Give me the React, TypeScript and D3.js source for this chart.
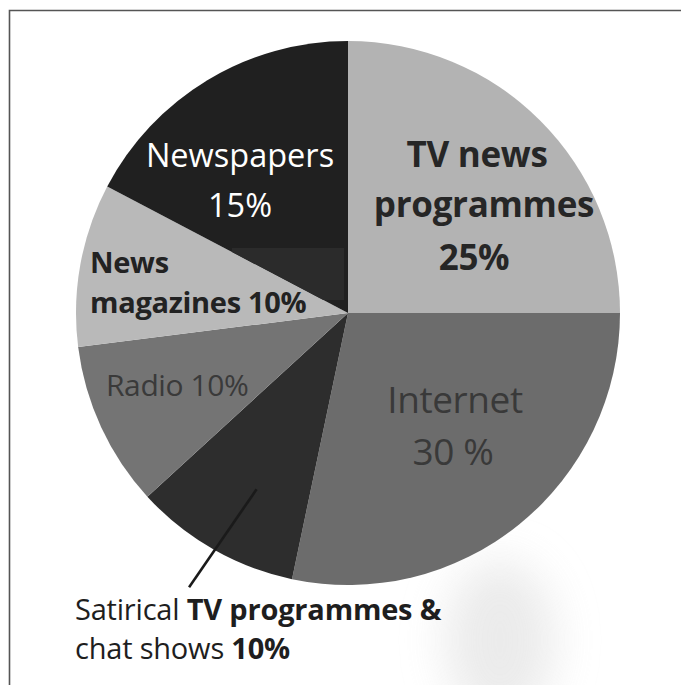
import React from "react";
import * as d3 from "d3";

// Categories in clockwise order from 12 o'clock
const categories = [
  "TV news programmes",
  "Internet",
  "Satirical TV programmes & chat shows",
  "Radio",
  "News magazines",
  "Newspapers",
];
// Printed percentages
const printedValues = [25, 30, 10, 10, 10, 15];
// Slice shares as actually drawn in the picture (measured angles)
const drawnShares = [25, 28.3, 9.9, 9.8, 9.7, 17.3];
const sliceColors = ["#b3b3b3", "#6c6c6c", "#2d2d2d", "#747474", "#b9b9b9", "#202020"];

const W = 681;
const H = 685;
const cx = 348;
const cy = 313;
const R = 272;

export default function App() {
  const pie = d3
    .pie<number>()
    .value((d) => d)
    .sort(null)
    .startAngle(0)
    .endAngle(2 * Math.PI);
  const arcs = pie(drawnShares);
  const arc = d3.arc<d3.PieArcDatum<number>>().innerRadius(0).outerRadius(R);

  const font = "'Open Sans', 'Noto Sans', sans-serif";
  const pct = (i: number) => `${printedValues[i]}%`;

  // pointer for satirical slice
  const satMid = (arcs[2].startAngle + arcs[2].endAngle) / 2;
  const aIn = satMid - 0.04;
  const aOut = satMid + 0.007;
  const pIn = [Math.sin(aIn) * R * 0.73, -Math.cos(aIn) * R * 0.73];
  const pOut = [Math.sin(aOut) * R * 1.165, -Math.cos(aOut) * R * 1.165];

  return (
    <svg
      width={W}
      height={H}
      style={{ position: "absolute", left: 0, top: 0, background: "#fff" }}
      fontFamily={font}
    >
      <defs>
        <filter id="blur" x="-50%" y="-50%" width="200%" height="200%">
          <feGaussianBlur stdDeviation="22" />
        </filter>
        <clipPath id="newsClip">
          <path transform={`translate(${cx},${cy})`} d={arc(arcs[5]) || ""} />
        </clipPath>
      </defs>
      <rect x={0} y={0} width={W} height={H} fill="#fff" />
      {/* scan smudges */}
      <ellipse cx={500} cy={640} rx={55} ry={80} fill="#e6e6e6" filter="url(#blur)" opacity={0.8} />
      {/* frame */}
      <path d={`M9.5,${H} V10.5 H${W}`} fill="none" stroke="#555" strokeWidth={1.6} />

      <g transform={`translate(${cx},${cy})`}>
        {arcs.map((a, i) => (
          <path key={categories[i]} d={arc(a) || ""} fill={sliceColors[i]} />
        ))}
      </g>
      {/* paste-up patch in the newspapers slice */}
      <rect x={232} y={248} width={112} height={52} fill="#2b2b2b" clipPath="url(#newsClip)" />
      <g transform={`translate(${cx},${cy})`}>
        <line
          x1={pIn[0]}
          y1={pIn[1]}
          x2={pOut[0]}
          y2={pOut[1]}
          stroke="#1a1a1a"
          strokeWidth={2.6}
        />
      </g>

      {/* Newspapers */}
      <g fill="#fff" fontSize={32.5} textAnchor="middle">
        <text x={240} y={167}>Newspapers</text>
        <text x={240} y={217}>{pct(5)}</text>
      </g>
      {/* TV news */}
      <g fill="#262626" fontSize={35} fontWeight={700} textAnchor="middle" letterSpacing={-0.3}>
        <text x={477} y={167}>TV news</text>
        <text x={484} y={217}>programmes</text>
        <text x={474} y={270}>{pct(0)}</text>
      </g>
      {/* News magazines */}
      <g fill="#222" fontSize={29} fontWeight={700} letterSpacing={-0.3}>
        <text x={90} y={273}>News</text>
        <text x={90} y={313}>magazines {pct(4)}</text>
      </g>
      {/* Radio */}
      <text x={106} y={396} fill="#3a3a3a" fontSize={30} letterSpacing={-0.4}>
        Radio {pct(3)}
      </text>
      {/* Internet */}
      <g fill="#393939" fontSize={37} textAnchor="middle" letterSpacing={-0.4}>
        <text x={455} y={413}>Internet</text>
        <text x={453} y={465}>{printedValues[1]} %</text>
      </g>
      {/* Satirical */}
      <g fill="#1e1e1e" fontSize={29} letterSpacing={-0.2}>
        <text x={75} y={620}>
          Satirical <tspan fontWeight={700}>TV programmes &amp;</tspan>
        </text>
        <text x={75} y={659}>
          chat shows <tspan fontWeight={700}>{pct(2)}</tspan>
        </text>
      </g>
    </svg>
  );
}
